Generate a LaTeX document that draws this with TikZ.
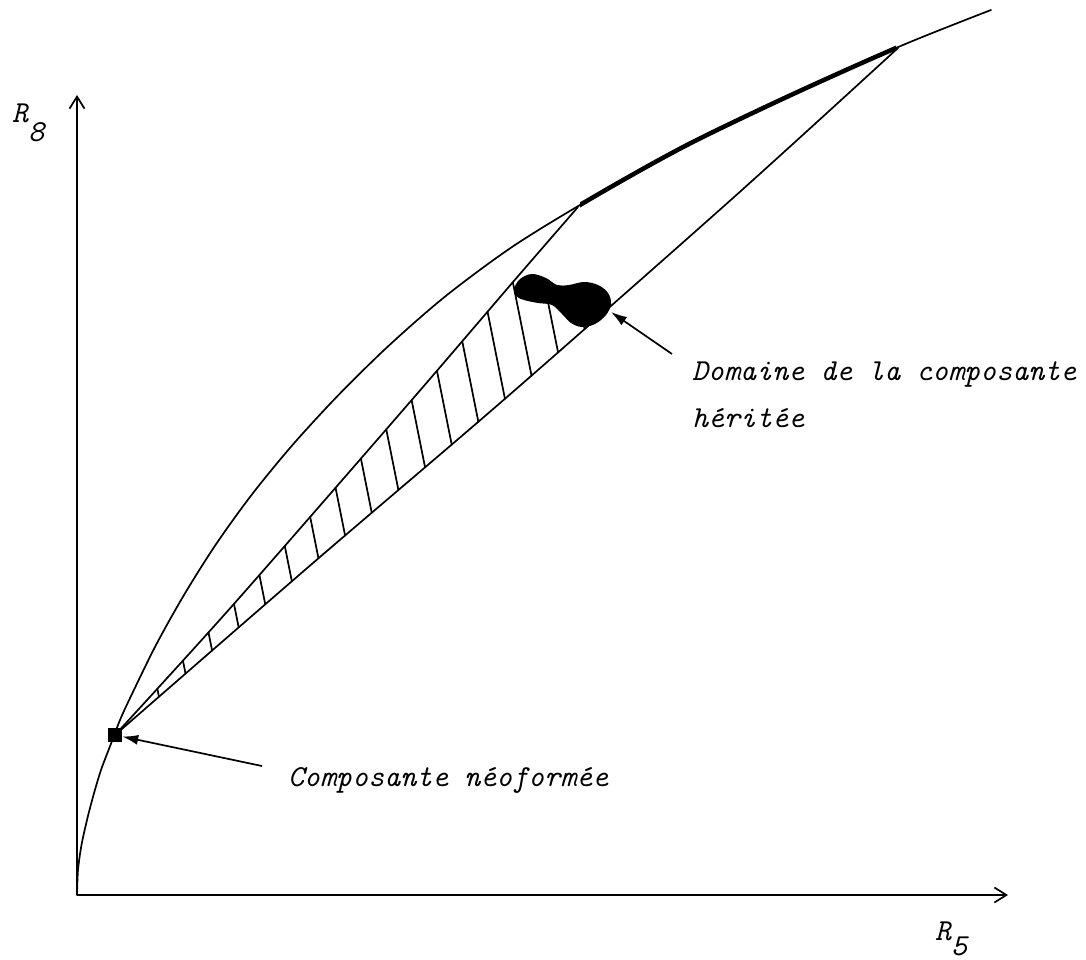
\documentclass[tikz,border=0pt]{standalone}
\usetikzlibrary{arrows.meta,intersections,calc}
\begin{document}
\begin{tikzpicture}[x=1pt,y=-1pt,
  line/.style={line width=1.7pt, line cap=round, line join=round},
  axisline/.style={line width=1.7pt, -{Straight Barb[length=12pt,width=15pt]}},
  ptr/.style={line width=1.7pt, -{Latex[length=16pt,width=10pt]}},
  lbl/.style={font=\fontsize{30.5}{47}\selectfont\ttfamily\itshape, inner sep=0pt, anchor=base west},
]
\useasboundingbox (0,0) rectangle (1086,960);
\coordinate (O) at (77,895);
\coordinate (Ytop) at (77,95);
\coordinate (Xend) at (1008,895);
\coordinate (S) at (115,735);
\coordinate (ntail) at (262,766);
\coordinate (dtail) at (672,354);
\coordinate (btip) at (611,312);

% axes
\draw[axisline] (O) -- (Ytop);
\draw[axisline] (O) -- (Xend);

% outer curve
\def\outer{(77,895) (78,870) (81.5,845) (87,820) (93.5,795) (101,770) (110.5,745) (120,720) (131.5,695) (156,645) (184,595) (215.5,545) (251.5,495) (292.5,445) (338.5,395) (389.5,345) (447,295) (515,245) (597,195) (687,145) (791,95) (903,45) (991,10)}
\draw[line] plot[smooth, tension=0.5] coordinates {\outer};
\begin{scope}
  \clip (580,0) rectangle (896,400);
  \draw[line width=4.5pt] plot[smooth, tension=0.5] coordinates {\outer};
\end{scope}

% inner edges
\draw[line, name path=up] plot[smooth] coordinates {(115,735) (233,605) (410,402) (513,282) (578,207)};
\draw[line, name path=low] plot[smooth] coordinates {(115,735) (313,563) (507,397) (733,198) (898,48)};

% hatching
\foreach \k in {0,...,14} {
  \pgfmathsetmacro{\xk}{19.6+31.2*\k}
  \path[name path=hk] (\xk,0) -- ({\xk+200},1000);
  \draw[line, name intersections={of=up and hk, name=T}, name intersections={of=low and hk, name=B}] (T-1) -- (B-1);
}
\foreach \k/\ys in {15/295,16/312} {
  \pgfmathsetmacro{\xk}{19.6+31.2*\k}
  \path[name path=hk] ({\xk+0.2*\ys},\ys) -- ({\xk+200},1000);
  \draw[line, name intersections={of=low and hk, name=B}] ({\xk+0.2*\ys},\ys) -- (B-1);
}

% blob
\fill plot[smooth cycle, tension=0.6] coordinates {(514,289) (520,279) (532,274) (546,278) (557,285) (569,285) (584,282) (598,285) (608,293) (611,304) (606,315) (595,324) (582,327) (571,323) (562,314) (552,305) (538,303) (524,300) (516,296)};

% square
\node[fill=black, minimum size=14pt, inner sep=0pt] (sq) at (S) {};

% pointers
\draw[ptr] (ntail) -- (sq);
\draw[ptr] (dtail) -- (btip);

% labels
\node[lbl] (neo) at (288,786) {Composante néoformée};
\node[lbl] (dom1) at (692,380) {Domaine de la composante};
\node[lbl] (dom2) at (692,427) {héritée};
\node[lbl] (r8) at (12,123) {R\raisebox{-19pt}{8}};
\node[lbl] (r5) at (935,940) {R\raisebox{-15pt}{5}};
\end{tikzpicture}
\end{document}
